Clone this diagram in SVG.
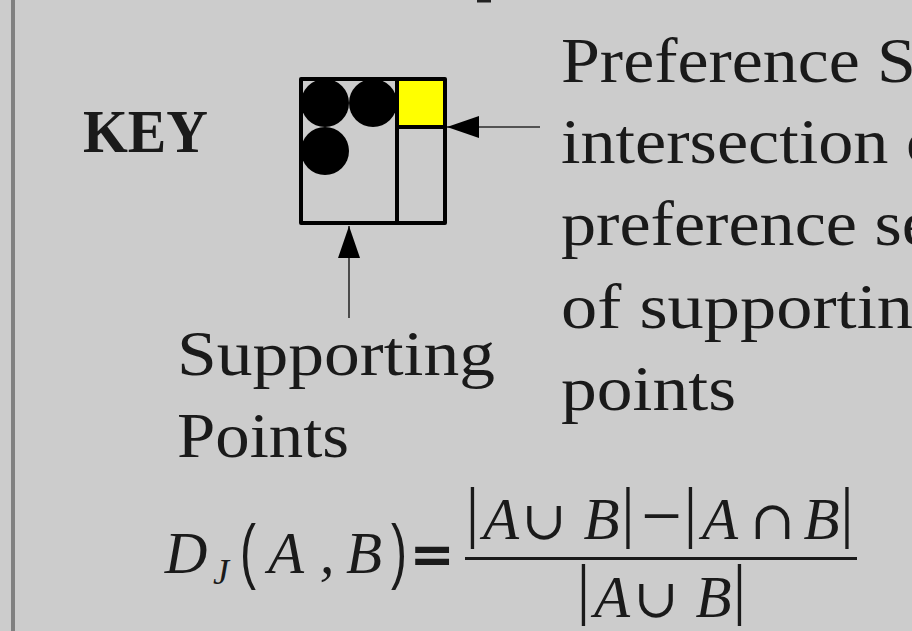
<svg xmlns="http://www.w3.org/2000/svg" width="912" height="631" viewBox="0 0 912 631">
  <style>
    .lbl { font-family: "Liberation Serif", "Times New Roman", serif; font-size: 63px; fill: #1a1a1a; }
    .key { font-family: "Liberation Serif", "Times New Roman", serif; font-size: 62px; font-weight: bold; fill: #1a1a1a; }
    .mi { font-family: "Liberation Serif", "Times New Roman", serif; font-style: italic; font-size: 59px; fill: #1a1a1a; text-anchor: middle; }
    .mo { font-family: "DejaVu Serif", "Liberation Serif", serif; font-size: 54px; fill: #1a1a1a; text-anchor: middle; }
    .bar { font-family: "Liberation Serif", "Times New Roman", serif; font-size: 67px; fill: #1a1a1a; text-anchor: middle; }
    .par { font-family: "Liberation Sans", Arial, sans-serif; font-size: 60px; fill: #1a1a1a; text-anchor: middle; }
    .cell { fill: none; stroke: #000; stroke-width: 4; stroke-linejoin: round; }
    .dot { fill: #000; }
    .conn { stroke: #2a2a2a; stroke-width: 1.6; fill: none; }
  </style>
  <defs>
    <marker id="head" viewBox="0 0 32 22" refX="32" refY="11" markerWidth="32" markerHeight="22" markerUnits="userSpaceOnUse" orient="auto">
      <path d="M0,0 L32,11 L0,22 Z" fill="#000"/>
    </marker>
  </defs>

  <!-- page background and left margin rule -->
  <rect x="0" y="0" width="912" height="631" fill="#cccccc"/>
  <rect x="11" y="0" width="4" height="631" fill="#808080"/>
  <rect x="477" y="0" width="14" height="2.5" fill="#222"/>

  <!-- key heading -->
  <g id="key-title">
    <text class="key" x="83" y="152" textLength="125" lengthAdjust="spacingAndGlyphs">KEY</text>
  </g>

  <!-- key cell: supporting points + preference set -->
  <g id="key-cell">
    <rect x="397" y="79" width="48" height="48" fill="#ffff00"/>
    <circle class="dot" cx="325" cy="103" r="24"/>
    <circle class="dot" cx="373" cy="103" r="24"/>
    <circle class="dot" cx="325" cy="151" r="24"/>
    <rect class="cell" x="301" y="79" width="144" height="144"/>
    <line class="cell" x1="397" y1="79" x2="397" y2="223"/>
    <line class="cell" x1="397" y1="127" x2="445" y2="127"/>
  </g>

  <!-- label for the preference set cell -->
  <g id="label-preference">
    <text class="lbl" x="561" y="82" textLength="386" lengthAdjust="spacingAndGlyphs">Preference Se</text>
    <text class="lbl" x="561" y="163" textLength="380" lengthAdjust="spacingAndGlyphs">intersection o</text>
    <text class="lbl" x="561" y="245" textLength="372" lengthAdjust="spacingAndGlyphs">preference se</text>
    <text class="lbl" x="561" y="328" textLength="352" lengthAdjust="spacingAndGlyphs">of supportin</text>
    <text class="lbl" x="561" y="410" textLength="175" lengthAdjust="spacingAndGlyphs">points</text>
  </g>

  <!-- label for the supporting points -->
  <g id="label-supporting">
    <text class="lbl" x="177" y="375" textLength="318" lengthAdjust="spacingAndGlyphs">Supporting</text>
    <text class="lbl" x="177" y="457" textLength="172" lengthAdjust="spacingAndGlyphs">Points</text>
  </g>

  <!-- connectors -->
  <g id="connectors">
    <line class="conn" x1="540" y1="127" x2="447" y2="127" marker-end="url(#head)"/>
    <line class="conn" x1="349" y1="318" x2="349" y2="226" stroke="#555" stroke-width="2" marker-end="url(#head)"/>
  </g>

  <!-- Jaccard distance formula -->
  <g id="formula">
    <text class="mi" x="186" y="573">D</text>
    <text class="mi" x="221" y="584" style="font-size:36px">J</text>
    <text class="par" x="248" y="575" transform="translate(248 575) scale(0.8 1.2) translate(-248 -575)">(</text>
    <text class="mi" x="286" y="573">A</text>
    <text class="mi" x="327" y="573">,</text>
    <text class="mi" x="364" y="573">B</text>
    <text class="par" x="399" y="575" transform="translate(399 575) scale(0.8 1.2) translate(-399 -575)">)</text>
    <text x="432" y="573" style="font-family:'DejaVu Sans',sans-serif;font-weight:bold;font-size:54px;fill:#1a1a1a;text-anchor:middle">=</text>

    <!-- numerator -->
    <text class="bar" x="472.5" y="535">|</text>
    <text class="mi" x="501" y="539">A</text>
    <text class="mo" x="544" y="539">∪</text>
    <text class="mi" x="601.5" y="539">B</text>
    <text class="bar" x="628" y="535">|</text>
    <text class="bar" x="661.5" y="540" style="font-size:72px">−</text>
    <text class="bar" x="690.5" y="535">|</text>
    <text class="mi" x="720" y="539">A</text>
    <text class="mo" x="772.5" y="539">∩</text>
    <text class="mi" x="821.5" y="539">B</text>
    <text class="bar" x="847" y="535">|</text>

    <rect x="465" y="557" width="392" height="3" fill="#1a1a1a"/>

    <!-- denominator -->
    <text class="bar" x="583.5" y="612">|</text>
    <text class="mi" x="612" y="617">A</text>
    <text class="mo" x="656" y="617">∪</text>
    <text class="mi" x="713.5" y="617">B</text>
    <text class="bar" x="739.5" y="612">|</text>
  </g>
</svg>
